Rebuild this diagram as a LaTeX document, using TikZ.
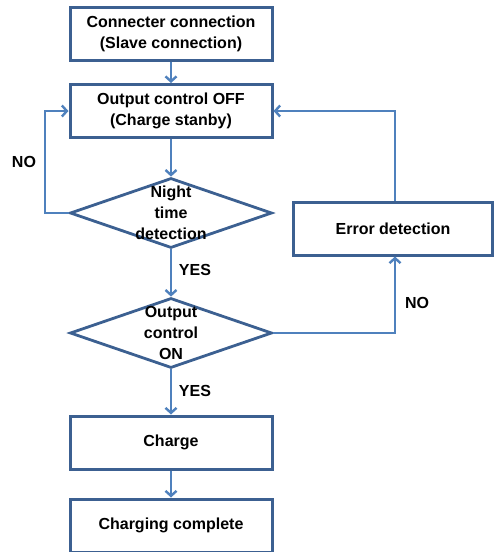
\documentclass[tikz,border=0pt]{standalone}
\usepackage{fontspec}
\setmainfont{Liberation Sans}
\usetikzlibrary{shapes.geometric,arrows.meta}
\definecolor{boxc}{RGB}{60,96,145}
\definecolor{arrc}{RGB}{79,129,189}
\tikzset{
  x=1pt,y=-1pt,
  box/.style={draw=boxc,line width=3pt,rectangle,minimum width=202pt,minimum height=53pt,inner sep=0pt,font=\fontsize{16}{21}\selectfont\bfseries,align=center},
  dia/.style={draw=boxc,line width=2.8pt,diamond,minimum width=202pt,minimum height=70pt,inner sep=0pt},
  txt/.style={font=\fontsize{16}{21}\selectfont\bfseries,align=center,inner sep=0pt},
  conn/.style={draw=arrc,line width=2.4pt,-{Straight Barb[length=5pt,width=11pt,line width=2.4pt]}},
}
\begin{document}
\begin{tikzpicture}
\useasboundingbox (0,0) rectangle (495,552);
\node[box] (b1) at (171,33.5) {Connecter connection\\(Slave connection)};
\node[box] (b2) at (171,111) {Output control OFF\\(Charge stanby)};
\node[dia] (d1) at (171,213) {};
\node[txt] (t1) at (171,213) {Night\\time\\detection};
\node[box,minimum width=199pt] (err) at (393,228.5) {Error detection};
\node[dia] (d2) at (171,333) {};
\node[txt] (t2) at (171,333) {Output\\control\\ON};
\node[box] (b3) at (171,442.5) {Charge};
\node[box] (b4) at (171,525.5) {Charging complete};
\coordinate (lc) at (45,213);
\coordinate (lt) at (45,111);
\coordinate (rt) at (395,111);
\coordinate (rb) at (395,333);
\node[txt] (no1) at (24,162) {NO};
\node[txt] (yes1) at (195,270) {YES};
\node[txt] (no2) at (417,303) {NO};
\node[txt] (yes2) at (195,391) {YES};
\draw[conn] (b1.south) -- (b2.north);
\draw[conn] (b2.south) -- (d1.north);
\draw[conn] (d1.south) -- (d2.north);
\draw[conn] (d2.south) -- (b3.north);
\draw[conn] (b3.south) -- (b4.north);
\draw[conn] (d1.west) -- (lc) -- (lt) -- (b2.west);
\draw[conn] (err.north -| rt) -- (rt) -- (b2.east);
\draw[conn] (d2.east) -- (rb) -- (err.south -| rb);
\end{tikzpicture}
\end{document}
